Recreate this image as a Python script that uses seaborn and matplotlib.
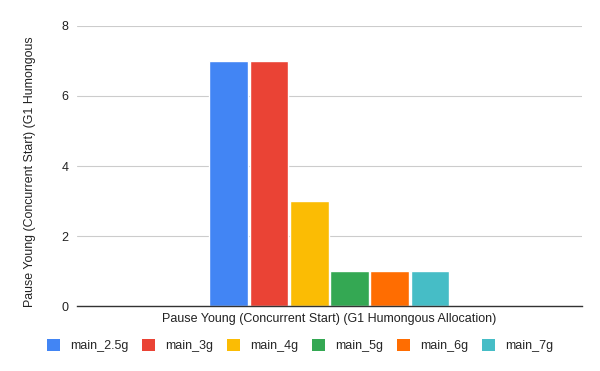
import matplotlib
matplotlib.use("Agg")
import matplotlib.pyplot as plt
import seaborn as sns
import pandas as pd
from matplotlib.patches import Patch

category = ["Pause Young (Concurrent Start) (G1 Humongous Allocation)"]
series = ["main_2.5g", "main_3g", "main_4g", "main_5g", "main_6g", "main_7g"]
values = [7, 7, 3, 1, 1, 1]
colors = ["#4285F4", "#EA4335", "#FBBC04", "#34A853", "#FF6D01", "#46BDC6"]
ylabel = "Pause Young (Concurrent Start) (G1 Humongous"

df = pd.DataFrame({"cat": category * len(series), "series": series, "value": values})

sns.set_theme(style="white")
plt.rcParams['font.family'] = ['Liberation Sans', 'DejaVu Sans']

fig = plt.figure(figsize=(6, 3.71), dpi=100)
ax = fig.add_axes([0.128, 0.175, 0.842, 0.755])
sns.barplot(data=df, x="cat", y="value", hue="series", palette=colors,
            width=0.478, gap=0.04, ax=ax, legend=False, saturation=1)
ax.set_xlim(-0.5, 0.5)
ax.set_ylim(0, 8)
ax.set_yticks([0, 2, 4, 6, 8])
ax.yaxis.grid(True, color="#cccccc", linewidth=0.8)
ax.set_axisbelow(True)
for s in ["top", "right", "left"]:
    ax.spines[s].set_visible(False)
ax.spines["bottom"].set_color("#333333")
ax.spines["bottom"].set_linewidth(1)
ax.tick_params(axis="both", length=0, labelsize=9, colors="#222222")
ax.tick_params(axis="x", pad=5)
ax.tick_params(axis="y", pad=6)
ax.set_xlabel("")
ax.set_ylabel(ylabel, fontsize=8.9, color="#222222")
ax.yaxis.set_label_coords(-0.08, 0.48)

handles = [Patch(facecolor=c, edgecolor="none", label=s) for c, s in zip(colors, series)]
fig.legend(handles=handles, loc="center", bbox_to_anchor=(0.5, 0.068), ncol=6,
           frameon=False, fontsize=9, handlelength=1.0, handleheight=1.0,
           handletextpad=0.8, columnspacing=1.15, borderaxespad=0)

fig.savefig("out.png", dpi=100)
